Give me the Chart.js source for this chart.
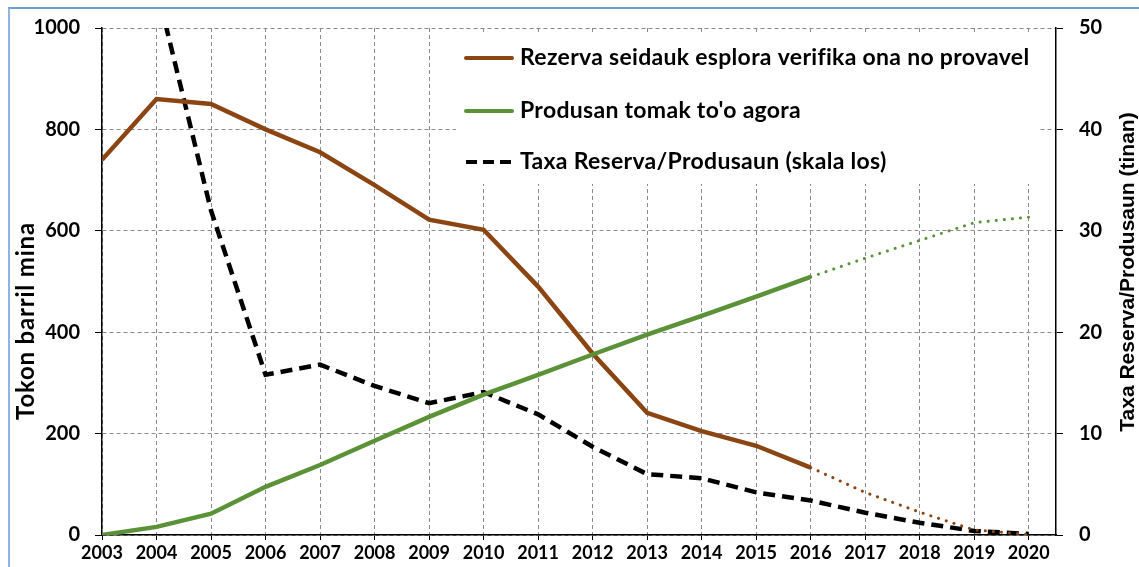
<!DOCTYPE html>
<html>
<head>
<meta charset="utf-8">
<script src="https://cdn.jsdelivr.net/npm/chart.js@4.4.1/dist/chart.umd.min.js"></script>
<style>
  html, body { margin: 0; padding: 0; background: #fff; }
  #wrap { position: relative; width: 1139px; height: 567px; overflow: hidden; }
  #frame { position: absolute; left: 8px; top: 7px; width: 1200px; height: 700px;
           border-left: 2px solid #8db4e2; border-top: 2px solid #6a9fd8; }
  canvas { position: absolute; left: 0; top: 0; }
</style>
</head>
<body>
<div id="wrap">
  <div id="frame"></div>
  <canvas id="c" width="1139" height="567"></canvas>
</div>
<script>
// ---- data ----
const years = [2003, 2004, 2005, 2006, 2007, 2008, 2009, 2010, 2011, 2012, 2013, 2014, 2015, 2016];
const projYears = [2016, 2017, 2018, 2019, 2020];
const allYears = [2003, 2004, 2005, 2006, 2007, 2008, 2009, 2010, 2011, 2012, 2013, 2014, 2015, 2016, 2017, 2018, 2019, 2020];

const reserves = [740, 860, 850, 800, 755, 690, 622, 602, 490, 358, 241, 205, 176, 133];
const reservesProj = [133, 84, 45, 10, 1];
const production = [0, 16, 42, 95, 138, 186, 233, 277, 316, 356, 395, 432, 470, 509];
const productionProj = [509, 546, 581, 616, 627];
const ratio = [null, 54, 32, 15.8, 16.8, 14.7, 13.0, 14.1, 11.9, 8.7, 6.0, 5.6, 4.2, 3.4, 2.2, 1.2, 0.4, 0.1];

const leftTicks = [0, 200, 400, 600, 800, 1000];
const rightTicks = [0, 10, 20, 30, 40, 50];

const legendLabels = [
  'Rezerva seidauk esplora verifika ona no provavel',
  "Produsan tomak to'o agora",
  'Taxa Reserva/Produsaun (skala los)'
];
const leftTitle = 'Tokon barril mina';
const rightTitle = 'Taxa Reserva/Produsaun (tinan)';

// ---- styles ----
const BROWN = '#8b4513';
const GREEN = '#5b9137';
const BLACK = '#000000';
const GRID = '#8a8a8a';
const FONT = 'Lato, "Open Sans", sans-serif';

const pts = (xs, ys) => xs.map((x, i) => ({ x: x, y: ys[i] }));

const legendPlugin = {
  id: 'boxLegend',
  beforeDatasetsDraw(chart) {
    const ctx = chart.ctx;
    const x0 = 456, y0 = 32, w = 584, h = 152;
    ctx.save();
    ctx.fillStyle = '#ffffff';
    ctx.fillRect(x0, y0, w, h);
    const items = [
      { color: BROWN, dash: [] },
      { color: GREEN, dash: [] },
      { color: BLACK, dash: [11, 6] }
    ];
    const rows = [58, 111, 162];
    items.forEach((it, i) => {
      const y = rows[i];
      ctx.beginPath();
      ctx.strokeStyle = it.color;
      ctx.lineWidth = 4;
      ctx.lineCap = i === 2 ? 'butt' : 'round';
      ctx.setLineDash(it.dash);
      ctx.moveTo(466, y);
      ctx.lineTo(512, y);
      ctx.stroke();
      ctx.setLineDash([]);
      ctx.fillStyle = '#000';
      ctx.font = 'bold 23px ' + FONT;
      if ('letterSpacing' in ctx) ctx.letterSpacing = '0.3px';
      ctx.textBaseline = 'middle';
      ctx.textAlign = 'left';
      ctx.fillText(legendLabels[i], 520, y);
      if ('letterSpacing' in ctx) ctx.letterSpacing = '0px';
    });
    ctx.restore();
  },
  afterDraw(chart) {
    const ctx = chart.ctx;
    ctx.save();
    ctx.fillStyle = '#000';
    ctx.textAlign = 'center';
    ctx.textBaseline = 'middle';
    // left axis title
    ctx.save();
    ctx.translate(26, 321);
    ctx.rotate(-Math.PI / 2);
    ctx.font = 'bold 24px ' + FONT;
    if ('letterSpacing' in ctx) ctx.letterSpacing = '0.8px';
    ctx.fillText(leftTitle, 0, 0);
    if ('letterSpacing' in ctx) ctx.letterSpacing = '0px';
    ctx.restore();
    // right axis title
    ctx.save();
    ctx.translate(1128, 272);
    ctx.rotate(-Math.PI / 2);
    ctx.font = 'bold 21px "Liberation Sans", Arial, sans-serif';
    ctx.fillText(rightTitle, 0, 0);
    ctx.restore();
    ctx.restore();
  }
};

new Chart(document.getElementById('c'), {
  type: 'line',
  data: {
    datasets: [
      { label: legendLabels[2], data: pts(allYears, ratio), yAxisID: 'y1',
        borderColor: BLACK, borderWidth: 4.5, borderDash: [12, 7], borderCapStyle: 'butt',
        pointRadius: 0, tension: 0, spanGaps: false, clip: 0, order: 3 },
      { label: legendLabels[0], data: pts(years, reserves), yAxisID: 'y',
        borderColor: BROWN, borderWidth: 4.5, pointRadius: 0, tension: 0, order: 2, clip: 0 },
      { label: 'proj1', data: pts(projYears, reservesProj), yAxisID: 'y',
        borderColor: BROWN, borderWidth: 3, borderDash: [0.1, 8], borderCapStyle: 'round',
        pointRadius: 0, tension: 0, order: 2 },
      { label: legendLabels[1], data: pts(years, production), yAxisID: 'y',
        borderColor: GREEN, borderWidth: 4.5, pointRadius: 0, tension: 0, order: 1, clip: 0 },
      { label: 'proj2', data: pts(projYears, productionProj), yAxisID: 'y',
        borderColor: GREEN, borderWidth: 3, borderDash: [0.1, 8], borderCapStyle: 'round',
        pointRadius: 0, tension: 0, order: 1 }
    ]
  },
  options: {
    responsive: false,
    animation: false,
    events: [],
    layout: { padding: { left: 8, right: 0, top: 24, bottom: 0 } },
    plugins: { legend: { display: false }, tooltip: { enabled: false }, title: { display: false } },
    scales: {
      x: {
        type: 'linear', min: 2003, max: 2020.5,
        afterBuildTicks: s => { s.ticks = allYears.map(v => ({ value: v })); },
        afterFit: s => { s.height = 32; },
        ticks: { autoSkip: false, maxRotation: 0, color: '#000', padding: 2,
                 font: { family: FONT, weight: 'bold', size: 18 }, callback: v => String(v) },
        grid: { color: GRID, lineWidth: 1, tickColor: '#000', tickLength: 5, tickWidth: 1 },
        border: { display: true, color: '#000', width: 1.5, dash: [4, 3] }
      },
      y: {
        position: 'left', min: 0, max: 1000,
        afterBuildTicks: s => { s.ticks = leftTicks.map(v => ({ value: v })); },
        afterFit: s => { s.width = 94; },
        ticks: { color: '#000', padding: 15, font: { family: FONT, weight: 'bold', size: 20 },
                 callback: v => String(v) },
        grid: { color: GRID, lineWidth: 1, tickColor: '#000', tickLength: 7, tickWidth: 1 },
        border: { display: true, color: '#000', width: 1.5, dash: [4, 3] }
      },
      y1: {
        position: 'right', min: 0, max: 50,
        afterBuildTicks: s => { s.ticks = rightTicks.map(v => ({ value: v })); },
        afterFit: s => { s.width = 83; },
        ticks: { color: '#000', padding: 16, font: { family: FONT, weight: 'bold', size: 20 },
                 callback: v => String(v) },
        grid: { drawOnChartArea: false, tickColor: '#000', tickLength: 7, tickWidth: 1 },
        border: { display: true, color: '#000', width: 1.5 }
      }
    }
  },
  plugins: [legendPlugin]
});
</script>
</body>
</html>
